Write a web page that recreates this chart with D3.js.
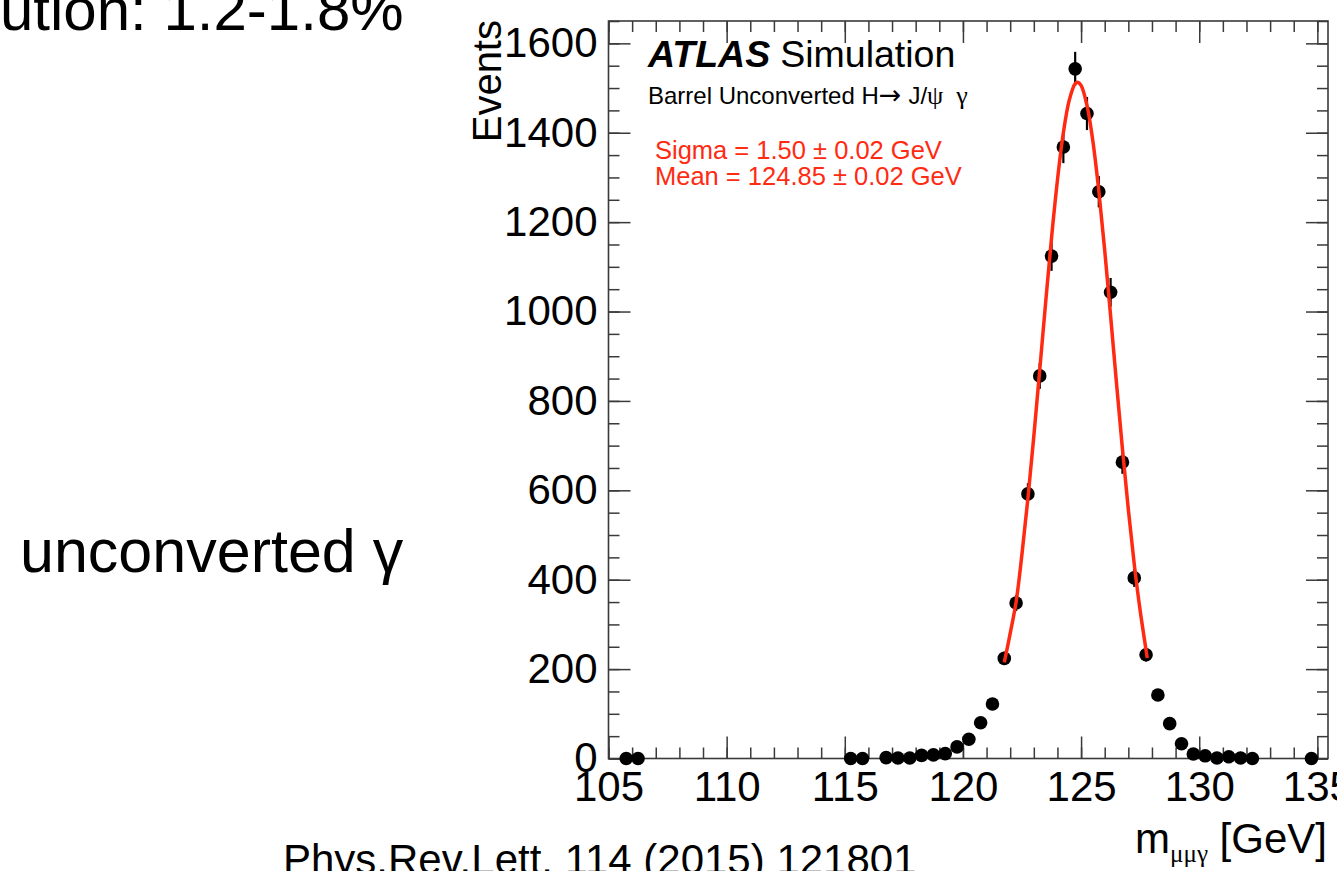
<!DOCTYPE html>
<html>
<head>
<meta charset="utf-8">
<script src="https://cdn.jsdelivr.net/npm/d3@7"></script>
<style>
  html, body { margin: 0; padding: 0; background: #ffffff; }
  svg { display: block; }
  text { font-family: "Liberation Sans", Arial, Helvetica, sans-serif; }
</style>
</head>
<body>
<svg id="chart" width="1337" height="871"></svg>
<script>
// ---- data ----
const massBins = [105.75, 106.25, 115.25, 115.75, 116.75, 117.25, 117.75, 118.25, 118.75, 119.25,
  119.75, 120.25, 120.75, 121.25, 121.75, 122.25, 122.75, 123.25, 123.75, 124.25,
  124.75, 125.25, 125.75, 126.25, 126.75, 127.25, 127.75, 128.25, 128.75, 129.25,
  129.75, 130.25, 130.75, 131.25, 131.75, 132.25, 134.75];
const events = [0, 0, 0, 0, 2, 1, 1, 7, 8, 11,
  26, 43, 80, 122, 224, 348, 592, 856, 1124, 1368,
  1543, 1443, 1268, 1043, 663, 404, 232, 142, 78, 33,
  10, 6, 1, 4, 1, 0, 0];
const eventErrors = [1, 1, 1, 1, 1, 1, 1, 3, 3, 3,
  5, 7, 9, 11, 15, 18, 24, 29, 33, 36,
  38, 37, 35, 32, 26, 20, 15, 12, 9, 6,
  3, 3, 1, 2, 1, 1, 1];
// fitted curve
const fitMass = [121.75, 122.0, 122.25, 122.5, 122.75, 123.0, 123.25, 123.5, 123.75, 124.0,
  124.25, 124.5, 124.75, 124.85, 125.0, 125.25, 125.5, 125.75, 126.0, 126.25,
  126.5, 126.75, 127.0, 127.25, 127.5, 127.8];
const fitEvents = [215, 280, 350, 458, 582, 721, 869, 1020, 1165, 1294,
  1400, 1473, 1510, 1513, 1506, 1461, 1381, 1270, 1137, 990,
  839, 693, 557, 435, 331, 225];
const xMajorTicks = [105, 110, 115, 120, 125, 130, 135];
const yMajorTicks = [0, 200, 400, 600, 800, 1000, 1200, 1400, 1600];
const xDomain = [105, 135.45];
const yDomain = [0, 1650];

// ---- layout ----
const svg = d3.select("#chart");
const L = 608.5, R = 1328, T = 21, B = 758.5;
const x = d3.scaleLinear().domain(xDomain).range([L, R]);
const y = d3.scaleLinear().domain(yDomain).range([B, T]);
const axisColor = "#3a3a3a";
const majorLen = 22, minorLen = 11;
const xMinor = d3.range(105, 136, 1);
const yMinor = d3.range(0, 1651, 50);
const red = "#ff2a12";

svg.append("rect").attr("width", 1337).attr("height", 871).attr("fill", "#fff");

function styleAxis(g) {
  g.select(".domain").remove();
  g.selectAll(".tick line").attr("stroke", axisColor).attr("stroke-width", 1.5);
}

// bottom axis
svg.append("g").attr("transform", `translate(0,${B})`)
  .call(d3.axisBottom(x).tickValues(xMinor).tickSize(-minorLen).tickFormat(""))
  .call(styleAxis);
svg.append("g").attr("transform", `translate(0,${B})`)
  .call(d3.axisBottom(x).tickValues(xMajorTicks).tickSize(-majorLen).tickPadding(13).tickFormat(d3.format("d")))
  .call(styleAxis)
  .call(g => g.selectAll("text").attr("fill", "#000").attr("font-size", 42));
// top axis
svg.append("g").attr("transform", `translate(0,${T})`)
  .call(d3.axisTop(x).tickValues(xMinor).tickSize(-minorLen).tickFormat(""))
  .call(styleAxis);
svg.append("g").attr("transform", `translate(0,${T})`)
  .call(d3.axisTop(x).tickValues(xMajorTicks).tickSize(-majorLen).tickFormat(""))
  .call(styleAxis);
// left axis
svg.append("g").attr("transform", `translate(${L},0)`)
  .call(d3.axisLeft(y).tickValues(yMinor).tickSize(-minorLen).tickFormat(""))
  .call(styleAxis);
svg.append("g").attr("transform", `translate(${L},0)`)
  .call(d3.axisLeft(y).tickValues(yMajorTicks).tickSize(-majorLen).tickPadding(11).tickFormat(d3.format("d")))
  .call(styleAxis)
  .call(g => g.selectAll("text").attr("fill", "#000").attr("font-size", 42));
// right axis
svg.append("g").attr("transform", `translate(${R},0)`)
  .call(d3.axisRight(y).tickValues(yMinor).tickSize(-minorLen).tickFormat(""))
  .call(styleAxis);
svg.append("g").attr("transform", `translate(${R},0)`)
  .call(d3.axisRight(y).tickValues(yMajorTicks).tickSize(-majorLen).tickFormat(""))
  .call(styleAxis);

// frame
svg.append("rect").attr("x", L).attr("y", T).attr("width", R - L).attr("height", B - T)
  .attr("fill", "none").attr("stroke", axisColor).attr("stroke-width", 1.6);

// data points
const pts = massBins.map((m, i) => ({ m, v: events[i], e: eventErrors[i] }));
const gPts = svg.append("g");
gPts.selectAll("line.err").data(pts).join("line").attr("class", "err")
  .attr("x1", d => x(d.m)).attr("x2", d => x(d.m))
  .attr("y1", d => y(d.v - d.e)).attr("y2", d => y(d.v + d.e))
  .attr("stroke", "#000").attr("stroke-width", 2.2);
gPts.selectAll("circle").data(pts).join("circle")
  .attr("cx", d => x(d.m)).attr("cy", d => y(d.v)).attr("r", 6.8).attr("fill", "#000");

// fit curve
const line = d3.line().x((d, i) => x(fitMass[i])).y(d => y(d)).curve(d3.curveCatmullRom);
svg.append("path").attr("d", line(fitEvents)).attr("fill", "none")
  .attr("stroke", red).attr("stroke-width", 3.5);

// labels inside the frame
const t1 = svg.append("text").attr("x", 648).attr("y", 67).attr("font-size", 37.5).attr("fill", "#000");
t1.append("tspan").attr("font-weight", "bold").attr("font-style", "italic").text("ATLAS");
t1.append("tspan").attr("dx", 10).text("Simulation");

const t2 = svg.append("text").attr("x", 648).attr("y", 104).attr("font-size", 24).attr("fill", "#000");
t2.append("tspan").text("Barrel Unconverted H");
t2.append("tspan").attr("font-family", "'DejaVu Sans', sans-serif").attr("font-size", 27).text("\u2192");
t2.append("tspan").attr("dx", 7).text("J/");
t2.append("tspan").attr("font-family", "'Liberation Serif', serif").attr("font-size", 26).text("\u03C8 \u00A0\u03B3");

svg.append("text").attr("x", 655).attr("y", 159).attr("font-size", 25.5).attr("fill", red)
  .text("Sigma = 1.50 \u00B1 0.02 GeV");
svg.append("text").attr("x", 655).attr("y", 185).attr("font-size", 25.5).attr("fill", red)
  .text("Mean = 124.85 \u00B1 0.02 GeV");

// axis titles
svg.append("text").attr("transform", "translate(501,20) rotate(-90)")
  .attr("text-anchor", "end").attr("font-size", 40).attr("fill", "#000").text("Events");

const xt = svg.append("text").attr("x", 1327).attr("y", 853).attr("text-anchor", "end")
  .attr("font-size", 42).attr("fill", "#000");
xt.append("tspan").text("m");
xt.append("tspan").attr("font-size", 25).attr("dy", 9).attr("font-family", "'Liberation Serif', serif").text("\u03BC\u03BC\u03B3");
xt.append("tspan").attr("dy", -9).text(" [GeV]");

// slide text around the chart
svg.append("text").attr("x", 0).attr("y", 30).attr("font-size", 60).attr("fill", "#000").text("ution: 1.2-1.8%");
svg.append("text").attr("x", 20).attr("y", 572).attr("font-size", 61).attr("fill", "#000").text("unconverted \u03B3");
svg.append("text").attr("x", 283).attr("y", 874).attr("font-size", 42).attr("fill", "#000").text("Phys.Rev.Lett. 114 (2015) 121801");
</script>
</body>
</html>
